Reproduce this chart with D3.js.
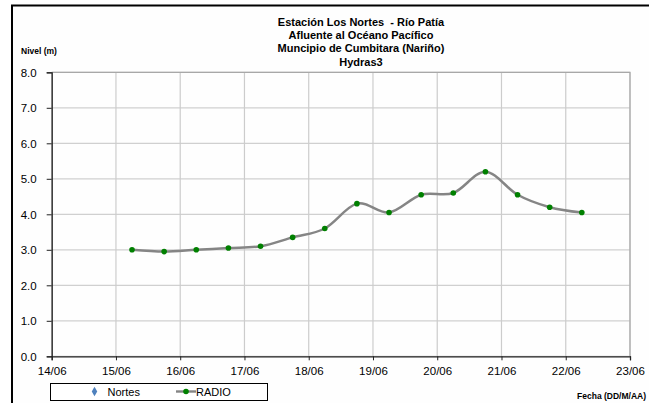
<!DOCTYPE html>
<html>
<head>
<meta charset="utf-8">
<script src="https://cdn.jsdelivr.net/npm/d3@7"></script>
<style>
  html, body { margin: 0; padding: 0; background: #ffffff; }
  svg { display: block; font-family: "Liberation Sans", Arial, sans-serif; }
  text { white-space: pre; }
</style>
</head>
<body>
<svg id="chart" width="649" height="403"></svg>
<script>
// ---- data ----
const titleLines = ["Estación Los Nortes  - Río Patía", "Afluente al Océano Pacífico", "Muncipio de Cumbitara (Nariño)", "Hydras3"];
const times = ["2010-06-15T06:00", "2010-06-15T18:00", "2010-06-16T06:00", "2010-06-16T18:00",
               "2010-06-17T06:00", "2010-06-17T18:00", "2010-06-18T06:00", "2010-06-18T18:00",
               "2010-06-19T06:00", "2010-06-19T18:00", "2010-06-20T06:00", "2010-06-20T18:00",
               "2010-06-21T06:00", "2010-06-21T18:00", "2010-06-22T06:00"];
const radio = [3.0, 2.95, 3.0, 3.05, 3.1, 3.35, 3.6, 4.3, 4.05, 4.55, 4.6, 5.2, 4.55, 4.2, 4.05];
const nortes = []; // no data shown
const xDomain = ["2010-06-14T00:00", "2010-06-23T00:00"];
const yTicks = [0, 1, 2, 3, 4, 5, 6, 7, 8];
const seriesNames = ["Nortes", "RADIO"];

// ---- layout ----
const svg = d3.select("#chart");
const parse = d3.utcParse("%Y-%m-%dT%H:%M");
const L = 51.7, R = 630, T = 72.3, B = 356.3;

const x = d3.scaleUtc().domain(xDomain.map(parse)).range([L, R]);
const y = d3.scaleLinear().domain([0, 8]).range([B, T]);

// outer chart border (cropped)
svg.append("rect").attr("x", 12).attr("y", 5.5).attr("width", 800).attr("height", 600)
  .attr("fill", "#fefefe").attr("stroke", "#000").attr("stroke-width", 2);

// gridlines
const xTickDates = d3.utcDay.range(parse(xDomain[0]), d3.utcDay.offset(parse(xDomain[1]), 1));
svg.append("g").selectAll("line.h").data(yTicks).join("line")
  .attr("x1", L).attr("x2", R).attr("y1", d => y(d)).attr("y2", d => y(d))
  .attr("stroke", "#d0d0d0").attr("stroke-width", 1.2);
svg.append("g").selectAll("line.v").data(xTickDates).join("line")
  .attr("x1", d => x(d)).attr("x2", d => x(d)).attr("y1", T).attr("y2", B)
  .attr("stroke", "#cccccc").attr("stroke-width", 1.2);

// plot border top/right
svg.append("path").attr("d", `M${L},${T}H${R}V${B}`).attr("fill", "none")
  .attr("stroke", "#a8a8a8").attr("stroke-width", 1.2);

// axes
const yAxis = d3.axisLeft(y).tickValues(yTicks).tickFormat(d3.format(".1f")).tickSizeOuter(0).tickSize(5).tickPadding(10);
const gy = svg.append("g").attr("transform", `translate(${L},0)`).call(yAxis);
const xAxis = d3.axisBottom(x).tickValues(xTickDates).tickFormat(d3.utcFormat("%d/%m")).tickSizeOuter(0).tickSize(4).tickPadding(6);
const gx = svg.append("g").attr("transform", `translate(0,${B})`).call(xAxis);
[gy, gx].forEach(g => {
  g.select(".domain").attr("stroke", "#222").attr("stroke-width", 1.3);
  g.selectAll(".tick line").attr("stroke", "#222");
  g.selectAll(".tick text").attr("fill", "#000").attr("font-size", 11.5)
    .attr("font-family", "'Liberation Sans', Arial, sans-serif");
});
gy.selectAll(".tick text").attr("dy", "0.36em");
gx.selectAll(".tick text").attr("dy", "0.8em");

// series line
const pts = times.map((t, i) => ({ t: parse(t), v: radio[i] }));
const line = d3.line().x(d => x(d.t)).y(d => y(d.v)).curve(d3.curveCatmullRom.alpha(0));
svg.append("path").datum(pts).attr("d", line).attr("fill", "none")
  .attr("stroke", "#858585").attr("stroke-width", 2.5);
svg.append("g").selectAll("circle").data(pts).join("circle")
  .attr("cx", d => x(d.t)).attr("cy", d => y(d.v)).attr("r", 2.8).attr("fill", "#008000");

// title
svg.append("g").selectAll("text").data(titleLines).join("text")
  .attr("x", 361).attr("y", (d, i) => 25.5 + i * 13.4)
  .attr("text-anchor", "middle").attr("font-size", 11).attr("font-weight", "bold")
  .attr("fill", "#000").text(d => d);

// axis titles
svg.append("text").attr("x", 21).attr("y", 54).attr("font-size", 8.5).attr("font-weight", "bold")
  .text("Nivel (m)");
svg.append("text").attr("x", 646).attr("y", 399).attr("text-anchor", "end")
  .attr("font-size", 8.5).attr("font-weight", "bold").text("Fecha (DD/M/AA)");

// legend
const lg = svg.append("g");
lg.append("rect").attr("x", 50.5).attr("y", 383.5).attr("width", 217).attr("height", 17)
  .attr("fill", "#fff").attr("stroke", "#000").attr("stroke-width", 1);
lg.append("path").attr("d", d3.symbol(d3.symbolDiamond, 26)())
  .attr("transform", "translate(94.5,391.5)").attr("fill", "#4f81bd");
lg.append("text").attr("x", 107.5).attr("y", 395.5).attr("font-size", 11).text(seriesNames[0]);
lg.append("line").attr("x1", 176).attr("x2", 196).attr("y1", 391.5).attr("y2", 391.5)
  .attr("stroke", "#858585").attr("stroke-width", 2.4);
lg.append("circle").attr("cx", 186).attr("cy", 391.5).attr("r", 2.8).attr("fill", "#008000");
lg.append("text").attr("x", 196).attr("y", 395.5).attr("font-size", 11).text(seriesNames[1]);
</script>
</body>
</html>
